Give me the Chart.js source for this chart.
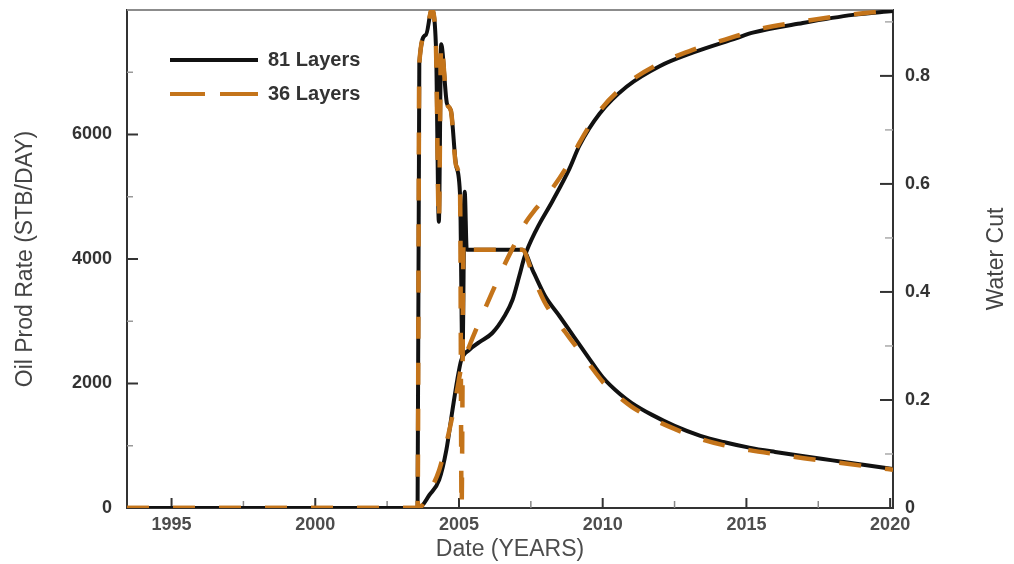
<!DOCTYPE html>
<html>
<head>
<meta charset="utf-8">
<script src="https://cdn.jsdelivr.net/npm/chart.js@4.4.0/dist/chart.umd.min.js"></script>
<style>
  html, body { margin: 0; padding: 0; background: #fff; }
  #wrap { width: 1014px; height: 564px; }
</style>
</head>
<body>
<div id="wrap"><canvas id="chart" width="1014" height="564"></canvas></div>
<script>
// axis ticks
const xMajorTicks = [1995, 2000, 2005, 2010, 2015, 2020];
const xMinorTicks = [1997.5, 2002.5, 2007.5, 2012.5, 2017.5];
const rateTicks = [0, 2000, 4000, 6000];
const rateMinorTicks = [1000, 3000, 5000, 7000];
const cutTicks = [0, 0.2, 0.4, 0.6, 0.8];
const cutMinorTicks = [0.1, 0.3, 0.5, 0.7, 0.9];

// oil rate, 81 layers
const rate81Years = [1993.45, 2003.56, 2003.62, 2003.85, 2004.05, 2004.2, 2004.3, 2004.38, 2004.58, 2004.72, 2004.9, 2005.04, 2005.12, 2005.2, 2005.27,
  2007.2, 2007.6, 2008.0, 2008.5, 2009.0, 2009.5, 2010.0, 2010.6, 2011.0, 2011.7, 2012.5, 2013.4, 2014.2, 2015.1, 2016.0, 2017.0, 2018.0, 2019.0, 2020.1];
const rate81Values = [0, 0, 7150, 7600, 8000, 7400, 4600, 7450, 6500, 6380, 5500, 5000, 2400, 5080, 4150,
  4150, 3780, 3400, 3080, 2750, 2420, 2100, 1830, 1690, 1500, 1320, 1160, 1060, 970, 900, 830, 765, 700, 625];

// oil rate, 36 layers
const rate36Years = [1993.45, 2003.56, 2003.62, 2003.85, 2004.05, 2004.2, 2004.3, 2004.38, 2004.58, 2004.72, 2004.9, 2005.04, 2005.09, 2005.16, 2005.27,
  2007.2, 2007.6, 2008.0, 2008.5, 2009.0, 2009.5, 2010.0, 2010.6, 2011.0, 2011.7, 2012.5, 2013.4, 2014.2, 2015.1, 2016.0, 2017.0, 2018.0, 2019.0, 2020.1];
const rate36Values = [0, 0, 7150, 7600, 8000, 7400, 4600, 7450, 6500, 6380, 5500, 5000, 0, 4300, 4150,
  4150, 3700, 3290, 2950, 2640, 2330, 2030, 1770, 1630, 1440, 1270, 1110, 1010, 930, 865, 800, 740, 680, 615];

// water cut, 81 layers
const cut81Years = [1993.45, 2003.6, 2003.97, 2004.31, 2004.56, 2004.77, 2004.94, 2005.08, 2005.36, 2005.71, 2006.16, 2006.58, 2006.86, 2007.1, 2007.28,
  2007.69, 2008.25, 2008.84, 2009.19, 2009.89, 2010.83, 2011.98, 2013.13, 2014.66, 2015.22, 2016.96, 2018.71, 2020.1];
const cut81Values = [0, 0, 0.024, 0.052, 0.107, 0.18, 0.237, 0.274, 0.293, 0.307, 0.324, 0.355, 0.385, 0.43, 0.465,
  0.515, 0.568, 0.628, 0.671, 0.73, 0.78, 0.818, 0.843, 0.870, 0.88, 0.898, 0.913, 0.92];

// water cut, 36 layers
const cut36Years = [1993.45, 2003.6, 2003.97, 2004.31, 2004.56, 2004.77, 2004.94, 2005.08, 2005.36, 2005.71, 2006.16, 2006.58, 2007.0, 2007.28,
  2007.69, 2008.25, 2008.84, 2009.19, 2009.89, 2010.83, 2011.98, 2013.13, 2014.66, 2015.22, 2016.96, 2018.71, 2020.1];
const cut36Values = [0, 0, 0.03, 0.07, 0.12, 0.17, 0.22, 0.26, 0.30, 0.345, 0.40, 0.45, 0.495, 0.525,
  0.555, 0.592, 0.64, 0.676, 0.735, 0.785, 0.823, 0.848, 0.874, 0.884, 0.901, 0.914, 0.921];

const BLACK = '#111111';
const BROWN = '#c4741a';
const FONT = '"Liberation Sans", Arial, sans-serif';

function pts(xs, ys) {
  return xs.map((x, i) => ({ x, y: ys[i] }));
}

Chart.defaults.font.family = FONT;

// inward tick marks, top frame line and the right-hand title
const frame = {
  id: 'frame',
  beforeDraw(chart) {
    const a = chart.chartArea;
    chart.legend.left = a.left + 29;
    chart.legend.top = a.top + 26;
  },
  beforeDatasetsDraw(chart) {
    const { ctx, chartArea: a, scales } = chart;
    const line = (x1, y1, x2, y2, color, w) => {
      ctx.strokeStyle = color; ctx.lineWidth = w;
      ctx.beginPath(); ctx.moveTo(x1, y1); ctx.lineTo(x2, y2); ctx.stroke();
    };
    ctx.save();
    line(a.left, a.top, a.right, a.top, '#8c8c8c', 2);
    xMajorTicks.forEach(v => { const x = scales.x.getPixelForValue(v); line(x, a.bottom, x, a.bottom - 10, '#333', 2); });
    xMinorTicks.forEach(v => { const x = scales.x.getPixelForValue(v); line(x, a.bottom, x, a.bottom - 7, '#888', 1.5); });
    rateTicks.forEach(v => { const y = scales.y.getPixelForValue(v); line(a.left, y, a.left + 11, y, '#333', 2); });
    rateMinorTicks.forEach(v => { const y = scales.y.getPixelForValue(v); line(a.left, y, a.left + 6, y, '#999', 1.5); });
    cutTicks.forEach(v => { const y = scales.y1.getPixelForValue(v); line(a.right, y, a.right - 13, y, '#333', 2); });
    cutMinorTicks.forEach(v => { const y = scales.y1.getPixelForValue(v); line(a.right, y, a.right - 8, y, '#aaa', 1.5); });
    ctx.restore();
  },
  afterDraw(chart) {
    const { ctx, chartArea: a } = chart;
    ctx.save();
    ctx.translate(997, (a.top + a.bottom) / 2);
    ctx.rotate(-Math.PI / 2);
    ctx.font = '23px ' + FONT;
    ctx.fillStyle = '#444';
    ctx.textAlign = 'center';
    ctx.textBaseline = 'middle';
    ctx.fillText('Water Cut', 0, 0);
    ctx.restore();
  }
};

const noPad = s => { s.paddingTop = 0; s.paddingBottom = 0; s.paddingLeft = 0; s.paddingRight = 0; };

new Chart(document.getElementById('chart'), {
  type: 'line',
  data: {
    datasets: [
      { label: '81 Layers', data: pts(rate81Years, rate81Values), yAxisID: 'y', borderColor: BLACK, borderWidth: 4, order: 2 },
      { label: '36 Layers', data: pts(rate36Years, rate36Values), yAxisID: 'y', borderColor: BROWN, borderWidth: 4.5, borderDash: [22, 24], order: 1 },
      { label: 'Water Cut 81', data: pts(cut81Years, cut81Values), yAxisID: 'y1', borderColor: BLACK, borderWidth: 4, order: 2 },
      { label: 'Water Cut 36', data: pts(cut36Years, cut36Values), yAxisID: 'y1', borderColor: BROWN, borderWidth: 4.5, borderDash: [22, 24], order: 1 }
    ]
  },
  options: {
    responsive: false,
    animation: false,
    layout: { padding: { top: 10, left: 0, right: 0, bottom: 0 } },
    elements: {
      point: { radius: 0 },
      line: { cubicInterpolationMode: 'monotone', borderCapStyle: 'butt' }
    },
    plugins: {
      tooltip: { enabled: false },
      legend: {
        position: 'chartArea',
        align: 'start',
        labels: {
          usePointStyle: true,
          pointStyle: 'line',
          pointStyleWidth: 88,
          padding: 14,
          color: '#333',
          font: { size: 20, weight: 'bold' },
          filter: item => item.datasetIndex < 2,
          sort: (a, b) => a.datasetIndex - b.datasetIndex,
          generateLabels(chart) {
            const items = Chart.defaults.plugins.legend.labels.generateLabels(chart);
            items.forEach(it => {
              it.lineWidth = 4;
              if (it.datasetIndex === 1) it.lineDash = [35, 15, 40, 15];
            });
            return items;
          }
        }
      }
    },
    scales: {
      x: {
        type: 'linear',
        min: 1993.45,
        max: 2020.1,
        afterBuildTicks: s => { s.ticks = xMajorTicks.map(v => ({ value: v })); },
        afterFit: s => { s.height = 56; noPad(s); },
        grid: { display: false, drawTicks: false },
        border: { display: true, color: '#333', width: 2 },
        ticks: { padding: 6, color: '#4d4d4d', font: { size: 18, weight: 'bold' }, maxRotation: 0, callback: v => String(v) },
        title: { display: true, text: 'Date (YEARS)', color: '#4d4d4d', font: { size: 23 }, padding: { top: 0, bottom: 1 } }
      },
      y: {
        position: 'left',
        min: 0,
        max: 8000,
        afterBuildTicks: s => { s.ticks = rateTicks.map(v => ({ value: v })); },
        afterFit: s => { s.width = 127; noPad(s); },
        grid: { display: false, drawTicks: false },
        border: { display: true, color: '#333', width: 2 },
        ticks: { padding: 15, color: '#333', font: { size: 18, weight: 'bold' }, callback: v => String(v) },
        title: { display: true, text: 'Oil Prod Rate (STB/DAY)', color: '#444', font: { size: 23 }, padding: { top: 12, bottom: 0 } }
      },
      y1: {
        position: 'right',
        min: 0,
        max: 0.922,
        afterBuildTicks: s => { s.ticks = cutTicks.map(v => ({ value: v })); },
        afterFit: s => { s.width = 121; noPad(s); },
        grid: { display: false, drawTicks: false },
        border: { display: true, color: '#333', width: 2 },
        ticks: { padding: 12, color: '#333', font: { size: 18, weight: 'bold' }, callback: v => (v === 0 ? '0' : v.toFixed(1)) }
      }
    }
  },
  plugins: [frame]
});
</script>
</body>
</html>
